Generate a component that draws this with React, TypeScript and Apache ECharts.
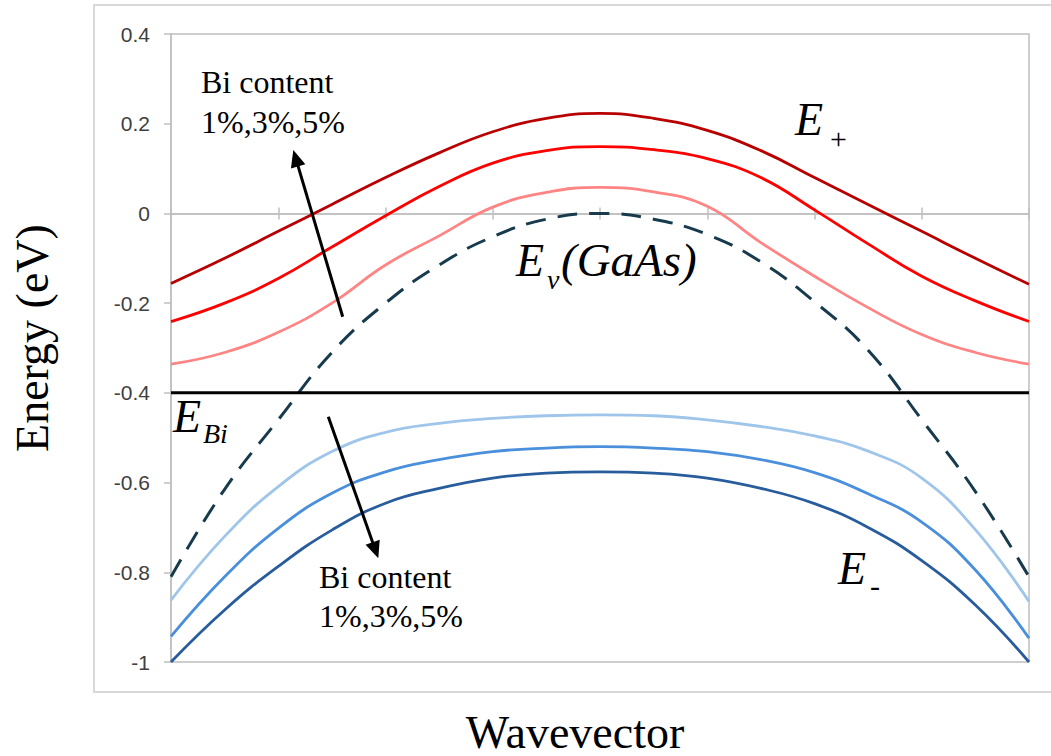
import React, { useEffect, useRef } from "react";
import * as echarts from "echarts";

// Wavevector sample points (arbitrary units, symmetric around the zone centre)
const wavevector = [-4, -3.5, -3, -2.5, -2, -1.5, -1, -0.5, 0, 0.5, 1, 1.5, 2, 2.5, 3, 3.5, 4];

// E+ band for Bi content 1%, 3%, 5% (eV)
const ePlus1 = [-0.336, -0.31, -0.265, -0.2, -0.115, -0.05, 0.014, 0.047, 0.058, 0.048, 0.016, -0.065, -0.14, -0.21, -0.27, -0.31, -0.336];
const ePlus3 = [-0.241, -0.2, -0.145, -0.075, -0.005, 0.06, 0.112, 0.14, 0.149, 0.142, 0.122, 0.08, 0.008, -0.068, -0.14, -0.195, -0.241];
const ePlus5 = [-0.156, -0.1, -0.04, 0.02, 0.08, 0.135, 0.182, 0.212, 0.223, 0.212, 0.185, 0.14, 0.08, 0.02, -0.04, -0.1, -0.158];

// GaAs valence band (eV)
const evGaAs = [-0.81, -0.615, -0.46, -0.31, -0.2, -0.115, -0.052, -0.013, 0, -0.013, -0.047, -0.108, -0.197, -0.305, -0.46, -0.62, -0.81];

// E- band for Bi content 1%, 3%, 5% (eV)
const eMinus1 = [-0.862, -0.72, -0.609, -0.531, -0.488, -0.468, -0.457, -0.451, -0.449, -0.451, -0.46, -0.475, -0.496, -0.53, -0.59, -0.705, -0.865];
const eMinus3 = [-0.943, -0.81, -0.702, -0.624, -0.576, -0.549, -0.531, -0.523, -0.52, -0.523, -0.531, -0.549, -0.578, -0.625, -0.688, -0.795, -0.947];
const eMinus5 = [-1.0, -0.884, -0.787, -0.706, -0.646, -0.613, -0.59, -0.579, -0.576, -0.579, -0.59, -0.613, -0.647, -0.7, -0.774, -0.873, -1.0];

// Bi level (eV)
const eBiLevel = -0.4;
const kRange = [-4, 4];

const yMin = -1;
const yMax = 0.4;
const yStep = 0.2;

const pair = (ys: number[]) => wavevector.map((k, i) => [k, ys[i]]);

const AXIS_GREY = "#BFBFBF";
const SERIF = "Liberation Serif";

function arrow(tail: number[], tip: number[]) {
  const dx = tip[0] - tail[0];
  const dy = tip[1] - tail[1];
  const len = Math.hypot(dx, dy);
  const ux = dx / len;
  const uy = dy / len;
  const L = 17;
  const W = 7.5;
  const bx = tip[0] - ux * L;
  const by = tip[1] - uy * L;
  const nx = -uy;
  const ny = ux;
  return [
    {
      type: "line",
      shape: { x1: tail[0], y1: tail[1], x2: bx + ux * 2, y2: by + uy * 2 },
      style: { stroke: "#000", lineWidth: 3 },
      z: 100,
    },
    {
      type: "polygon",
      shape: {
        points: [
          [tip[0], tip[1]],
          [bx + nx * W, by + ny * W],
          [bx - nx * W, by - ny * W],
        ],
      },
      style: { fill: "#000" },
      z: 100,
    },
  ];
}

function txt(text: string, x: number, y: number, size: number, italic = false, extra: any = {}) {
  return {
    type: "text",
    x,
    y,
    z: 100,
    style: {
      text,
      fill: "#000",
      fontFamily: SERIF,
      fontSize: size,
      fontStyle: italic ? "italic" : "normal",
      textAlign: "left",
      textVerticalAlign: "middle",
      ...extra,
    },
  };
}

export default function App() {
  const ref = useRef<HTMLDivElement>(null);

  useEffect(() => {
    if (!ref.current) return;
    const chart = echarts.init(ref.current, null, { renderer: "svg" });

    const xAxisBase = {
      type: "value",
      min: kRange[0],
      max: kRange[1],
      interval: 1,
      axisLine: { show: true, onZero: true, onZeroAxisIndex: 0, lineStyle: { color: AXIS_GREY, width: 1.5 } },
      axisTick: { show: true, length: 6, lineStyle: { color: AXIS_GREY, width: 1.5 } },
      axisLabel: { show: false },
      splitLine: { show: false },
    };

    const lineSeries = (name: string, data: number[], color: string) => ({
      name,
      type: "line",
      data: pair(data),
      smooth: 0.45,
      showSymbol: false,
      symbol: "none",
      lineStyle: { color, width: 2.8 },
      z: 3,
    });

    const option: any = {
      animation: false,
      backgroundColor: "#fff",
      grid: {
        left: 171,
        top: 34,
        right: 22,
        bottom: 94,
        show: true,
        borderColor: AXIS_GREY,
        borderWidth: 1.5,
        containLabel: false,
      },
      xAxis: [
        { ...xAxisBase, position: "bottom" },
        { ...xAxisBase, position: "top" },
      ],
      yAxis: {
        type: "value",
        min: yMin,
        max: yMax,
        interval: yStep,
        axisLine: { show: true, onZero: false, lineStyle: { color: AXIS_GREY, width: 1.5 } },
        axisTick: { show: true, length: 7, lineStyle: { color: AXIS_GREY, width: 1.5 } },
        axisLabel: {
          fontFamily: "Liberation Sans",
          fontSize: 21,
          color: "#404040",
          margin: 21,
          formatter: (v: number) => String(Math.round(v * 10) / 10),
        },
        splitLine: { show: false },
      },
      series: [
        lineSeries("E+ (Bi 1%)", ePlus1, "#FF8585"),
        lineSeries("E+ (Bi 3%)", ePlus3, "#FF0000"),
        lineSeries("E+ (Bi 5%)", ePlus5, "#B80000"),
        {
          name: "Ev (GaAs)",
          type: "line",
          data: pair(evGaAs),
          smooth: 0.45,
          showSymbol: false,
          symbol: "none",
          lineStyle: { color: "#173B4D", width: 3, type: [20, 12] },
          z: 4,
        },
        lineSeries("E- (Bi 1%)", eMinus1, "#9FC5EA"),
        lineSeries("E- (Bi 3%)", eMinus3, "#4A8FDB"),
        lineSeries("E- (Bi 5%)", eMinus5, "#285C9C"),
        {
          name: "EBi",
          type: "line",
          data: kRange.map((k) => [k, eBiLevel]),
          showSymbol: false,
          symbol: "none",
          lineStyle: { color: "#000", width: 3 },
          z: 5,
        },
      ],
      graphic: [
        // outer chart frame
        {
          type: "rect",
          shape: { x: 94, y: 5, width: 1000, height: 687 },
          style: { fill: "none", stroke: "#D9D9D9", lineWidth: 2 },
          z: -1,
        },
        // axis titles
        {
          type: "text",
          x: 32,
          y: 338,
          rotation: Math.PI / 2,
          style: {
            text: "Energy (eV)",
            fill: "#000",
            fontFamily: SERIF,
            fontSize: 46,
            textAlign: "center",
            textVerticalAlign: "middle",
          },
        },
        {
          type: "text",
          x: 575,
          y: 732,
          style: {
            text: "Wavevector",
            fill: "#000",
            fontFamily: SERIF,
            fontSize: 46,
            textAlign: "center",
            textVerticalAlign: "middle",
          },
        },
        // annotations
        txt("Bi content", 201, 82, 32),
        txt("1%,3%,5%", 201, 122, 32),
        txt("Bi content", 319, 577, 32),
        txt("1%,3%,5%", 319, 616, 32),
        txt("E", 795, 119, 46, true),
        txt("+", 830, 138, 30),
        txt("E", 516, 260, 46, true),
        txt("v", 547, 279, 28, true),
        txt("(GaAs)", 561, 260, 47, true),
        txt("E", 173, 416, 46, true),
        txt("Bi", 203, 433, 28, true),
        txt("E", 838, 568, 46, true),
        txt("-", 870, 585, 30),
        ...arrow([342.7, 316.7], [293.3, 150]),
        ...arrow([328.3, 416.7], [378.3, 558.3]),
      ],
    };

    chart.setOption(option);
    return () => chart.dispose();
  }, []);

  return (
    <div
      ref={ref}
      style={{ position: "fixed", left: 0, top: 0, width: 1051, height: 756, background: "#fff" }}
    />
  );
}
